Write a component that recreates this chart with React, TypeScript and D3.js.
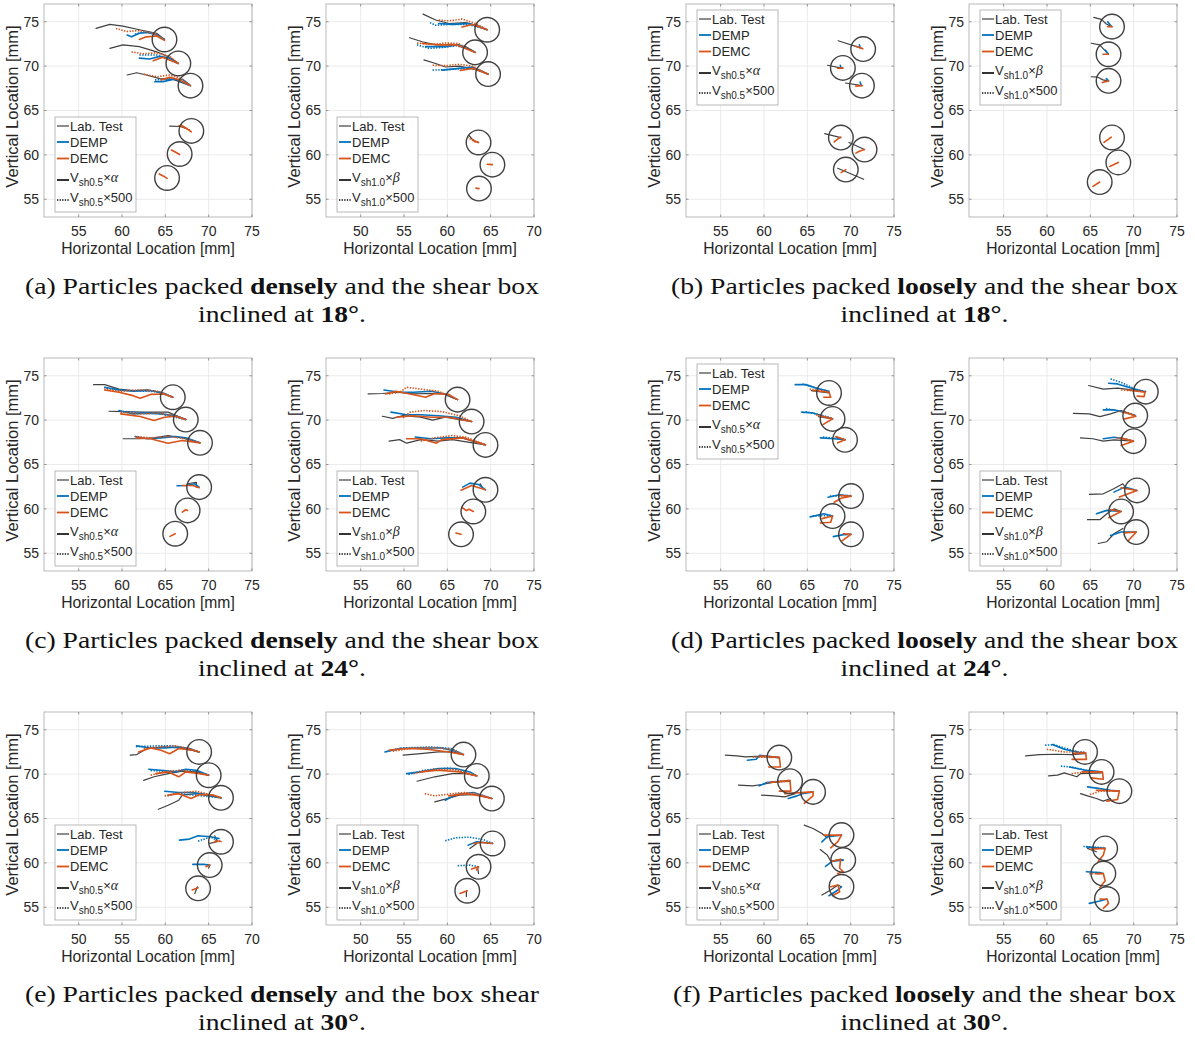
import React from "react";
import * as d3 from "d3";

// Particle trajectories in the inclined shear box (mm).
// Centres are the final particle positions; each trajectory is a flat list x0,y0,x1,y1,...

// ---- (a) dense, 18 deg ----
const a1Centers = [[64.9, 73.0], [66.5, 70.3], [67.9, 67.8], [68.0, 62.7], [66.65, 60.1], [65.2, 57.4]];
const a1Lab = [
  [57.0, 74.25, 58.6, 74.7, 60.1, 74.5, 62.0, 74.1, 64.0, 73.7, 64.9, 73.0],
  [58.6, 72.0, 60.1, 72.4, 62.0, 72.2, 64.0, 71.6, 65.5, 71.0, 66.5, 70.3],
  [60.6, 69.0, 61.7, 69.25, 62.8, 69.0, 64.35, 68.6, 65.9, 68.5, 67.9, 67.8],
  [65.5, 63.25, 66.8, 63.2, 67.3, 63.0],
];
const a1DempSolid = [
  [60.6, 73.5, 61.1, 73.3, 62.0, 73.7, 63.0, 73.8, 64.0, 73.5, 64.9, 73.0],
  [62.0, 70.9, 63.2, 70.8, 64.35, 71.1, 65.5, 70.9, 66.5, 70.3],
  [63.8, 68.25, 64.7, 68.25, 65.9, 68.5, 67.0, 68.5, 67.9, 67.8],
];
const a1DempDot = [
  [61.5, 73.6, 62.5, 73.85, 63.5, 73.7, 64.9, 73.0],
  [62.0, 71.25, 64.0, 71.25, 66.5, 70.3],
  [63.8, 68.45, 65.9, 68.6, 67.9, 67.8],
];
const a1DemcSolid = [
  [62.0, 73.0, 62.8, 73.3, 64.0, 73.4, 64.9, 72.9],
  [63.6, 70.6, 64.7, 71.0, 66.5, 70.3],
  [64.5, 68.45, 65.5, 68.75, 66.65, 68.45, 67.9, 67.8],
  [66.85, 63.35, 67.4, 63.0, 68.0, 62.6],
  [65.7, 60.55, 66.2, 60.3, 66.65, 60.05],
  [64.3, 57.85, 64.8, 57.6, 65.2, 57.35],
];
const a1DemcDot = [
  [59.3, 74.25, 60.5, 73.9, 62.0, 74.0, 63.6, 73.7, 64.9, 73.0],
  [61.1, 71.6, 62.4, 71.4, 64.0, 71.5, 65.5, 71.1, 66.5, 70.3],
  [62.5, 69.1, 64.0, 68.8, 65.5, 69.0, 66.85, 68.6, 67.9, 67.8],
  [66.5, 63.3, 67.4, 63.0, 68.0, 62.7],
];

const a2Centers = [[64.6, 74.1], [63.2, 71.55], [64.7, 69.1], [63.6, 61.4], [65.2, 58.9], [63.65, 56.2]];
const a2Lab = [
  [57.2, 75.86, 58.65, 75.2, 60.2, 74.8, 62.1, 74.9, 63.65, 74.5, 64.6, 74.1],
  [55.65, 73.2, 57.1, 72.75, 58.65, 72.4, 60.6, 72.45, 62.1, 72.2, 63.2, 71.6],
  [57.3, 70.7, 58.65, 70.3, 59.8, 69.9, 61.35, 70.0, 63.3, 69.6, 64.7, 69.1],
  [62.5, 62.2, 63.0, 61.6, 63.6, 61.4],
];
const a2DempSolid = [
  [59.0, 74.8, 60.6, 74.7, 62.5, 74.8, 64.6, 74.1],
  [57.5, 72.2, 59.8, 72.2, 61.3, 72.4, 63.2, 71.55],
  [59.4, 69.55, 61.35, 69.75, 62.9, 69.9, 64.7, 69.1],
];
const a2DempDot = [
  [58.0, 74.9, 58.65, 74.6, 60.2, 74.7, 62.1, 74.7, 63.65, 74.4, 64.6, 74.1],
  [56.5, 72.4, 57.9, 72.0, 59.4, 72.1, 61.0, 72.3, 62.1, 72.0, 63.2, 71.55],
  [58.3, 69.55, 59.8, 69.6, 61.35, 69.7, 62.9, 69.75, 64.7, 69.1],
];
const a2DemcSolid = [
  [61.7, 74.4, 62.9, 74.7, 64.6, 74.1],
  [57.1, 72.55, 59.0, 72.4, 61.0, 72.4, 63.2, 71.55],
  [61.5, 69.5, 62.9, 69.75, 64.7, 69.1],
  [62.9, 61.75, 63.3, 61.5, 63.6, 61.4],
  [64.6, 58.95, 65.2, 58.9],
  [63.3, 56.25, 63.65, 56.2],
];
const a2DemcDot = [
  [59.0, 75.2, 60.2, 75.1, 61.7, 75.3, 63.3, 74.8, 64.6, 74.1],
  [56.5, 72.6, 58.3, 72.45, 59.8, 72.6, 61.3, 72.55, 63.2, 71.55],
  [58.3, 70.1, 59.8, 70.05, 61.35, 70.2, 62.9, 70.0, 64.7, 69.1],
  [62.3, 62.0, 63.1, 61.5, 63.6, 61.4],
];

// ---- (b) loose, 18 deg ----
const b1Centers = [[71.44, 71.92], [69.1, 69.8], [71.3, 67.8], [68.87, 61.95], [71.6, 60.6], [69.44, 58.34]];
const b1Lab = [
  [68.56, 72.86, 71.3, 72.0],
  [67.33, 70.1, 69.1, 69.74],
  [69.4, 68.1, 71.3, 67.8],
  [67.0, 62.4, 68.87, 61.95],
  [69.8, 61.4, 71.6, 60.6],
  [68.5, 58.5, 71.5, 57.25],
];
const b1DempSolid = [
  [71.0, 72.4, 71.1, 72.1],
  [68.8, 70.1, 68.9, 69.75],
  [71.1, 68.2, 71.2, 67.85],
];
const b1DemcSolid = [
  [70.6, 72.25, 71.0, 72.1, 71.4, 71.95],
  [68.5, 69.74, 69.1, 69.8],
  [70.6, 67.75, 71.35, 67.8],
  [68.1, 61.46, 68.6, 61.85, 68.87, 62.0],
  [70.6, 60.2, 71.0, 60.4, 71.6, 60.6],
  [68.9, 58.0, 69.44, 58.34],
];

const b2Centers = [[67.5, 74.45], [67.1, 71.34], [67.1, 68.34], [67.5, 61.96], [68.23, 59.15], [66.08, 56.94]];
const b2Lab = [
  [65.4, 75.5, 66.27, 75.27, 66.85, 74.75, 67.5, 74.45],
  [65.1, 72.58, 66.07, 72.4, 66.65, 71.8, 67.1, 71.34],
  [65.1, 68.8, 65.88, 68.75, 66.46, 68.45, 67.1, 68.34],
];
const b2DempSolid = [
  [67.0, 75.0, 67.4, 74.5],
  [66.73, 71.8, 67.05, 71.4],
  [66.85, 68.6, 67.1, 68.34],
];
const b2DemcSolid = [
  [67.0, 74.45, 67.5, 74.45],
  [66.46, 71.34, 67.1, 71.34],
  [66.38, 68.15, 67.1, 68.34],
  [66.58, 61.4, 67.42, 62.0],
  [67.23, 58.7, 68.23, 59.15],
  [65.3, 56.45, 66.08, 56.94],
];

// ---- (c) dense, 24 deg ----
const c1Centers = [[65.86, 72.58], [67.36, 70.06], [69.0, 67.44], [68.9, 62.45], [67.57, 59.83], [66.14, 57.2]];
const c1Lab = [
  [56.72, 74.0, 58.0, 74.0, 59.65, 73.5, 61.27, 73.33, 62.9, 73.4, 64.5, 73.14, 65.86, 72.58],
  [58.5, 71.0, 60.05, 70.96, 62.1, 70.9, 63.7, 70.9, 65.3, 70.9, 67.36, 70.06],
  [60.14, 67.9, 62.1, 67.9, 63.7, 68.0, 65.3, 68.26, 66.96, 68.0, 69.0, 67.44],
  [67.56, 62.83, 68.58, 63.0, 68.58, 62.45],
];
const c1DempSolid = [
  [58.0, 73.7, 59.65, 73.4, 61.27, 73.25, 63.3, 73.33, 64.9, 73.0, 65.86, 72.58],
  [59.65, 71.08, 61.27, 70.7, 62.9, 70.78, 64.5, 70.7, 66.14, 70.5, 67.36, 70.06],
  [61.5, 68.15, 62.9, 67.9, 64.5, 68.0, 66.14, 68.15, 67.36, 68.0, 69.0, 67.44],
  [66.35, 62.6, 67.36, 62.64, 68.38, 62.83, 68.9, 62.45],
];
const c1DempDot = [
  [58.2, 73.6, 60.0, 73.35, 62.0, 73.3, 64.0, 73.2, 65.86, 72.58],
  [59.8, 71.0, 62.0, 70.85, 64.0, 70.8, 67.36, 70.06],
];
const c1DemcSolid = [
  [58.0, 73.4, 59.65, 73.14, 61.27, 72.76, 62.1, 72.46, 63.3, 72.9, 64.9, 72.95, 65.86, 72.58],
  [59.85, 70.7, 62.1, 70.4, 63.7, 69.95, 64.9, 70.33, 66.14, 70.44, 67.36, 70.06],
  [61.7, 68.0, 63.3, 67.9, 65.3, 67.4, 66.96, 67.7, 69.0, 67.44],
  [66.96, 62.64, 68.17, 62.64, 68.9, 62.38],
  [66.96, 59.64, 67.36, 59.9, 67.57, 59.83],
  [65.54, 56.9, 66.14, 57.2],
];
const c1DemcDot = [
  [57.94, 73.5, 59.65, 73.25, 62.1, 73.4, 64.1, 73.25, 65.86, 72.58],
  [59.85, 70.9, 62.1, 70.7, 64.1, 70.78, 66.14, 70.5, 67.36, 70.06],
  [61.5, 68.15, 63.3, 68.0, 65.3, 68.15, 67.36, 67.9, 69.0, 67.44],
];

const c2Centers = [[66.18, 72.31], [67.8, 69.84], [69.4, 67.21], [69.4, 62.15], [68.0, 59.71], [66.58, 57.13]];
const c2Lab = [
  [55.86, 72.95, 57.5, 73.0, 59.1, 73.14, 61.1, 72.95, 62.7, 73.0, 64.56, 72.95, 66.18, 72.31],
  [57.5, 70.44, 58.7, 70.2, 59.9, 70.5, 61.93, 70.33, 63.3, 70.0, 64.76, 70.33, 67.8, 69.84],
  [58.28, 67.63, 59.5, 67.8, 60.3, 67.4, 61.93, 67.8, 63.95, 67.63, 65.57, 67.8, 69.4, 67.21],
  [68.8, 62.83, 69.0, 62.45],
];
const c2DempSolid = [
  [57.68, 73.4, 59.5, 73.14, 61.1, 73.14, 63.14, 73.25, 64.76, 72.95, 66.18, 72.31],
  [58.5, 70.9, 60.3, 70.6, 61.93, 70.6, 63.95, 70.5, 66.0, 70.33, 67.8, 69.84],
  [61.3, 68.1, 63.14, 67.9, 64.76, 68.0, 66.78, 68.0, 69.4, 67.21],
  [66.78, 62.45, 67.6, 62.9, 68.6, 62.75, 69.4, 62.15],
];
const c2DemcSolid = [
  [57.88, 72.95, 59.1, 73.25, 60.7, 72.95, 62.5, 72.58, 63.55, 73.0, 65.16, 72.9, 66.18, 72.31],
  [59.1, 70.33, 61.1, 70.5, 63.14, 70.33, 65.16, 70.33, 67.8, 69.84],
  [60.3, 67.9, 61.93, 67.9, 63.75, 67.4, 64.36, 67.8, 66.78, 68.0, 69.4, 67.21],
  [66.58, 62.1, 67.8, 62.64, 69.4, 62.15],
  [66.78, 60.1, 67.2, 59.8, 67.5, 59.95, 68.0, 59.71],
  [66.0, 57.28, 66.58, 57.13],
];
const c2DemcDot = [
  [58.28, 72.95, 59.5, 73.14, 60.3, 73.7, 61.93, 73.5, 63.95, 73.25, 66.18, 72.31],
  [59.9, 70.25, 60.7, 70.9, 62.33, 71.08, 64.36, 70.96, 66.38, 70.5, 67.8, 69.84],
  [61.93, 67.63, 63.55, 68.0, 65.57, 68.26, 67.19, 68.07, 69.4, 67.21],
];

// ---- (d) loose, 24 deg ----
const d1Centers = [[67.5, 73.06], [67.91, 70.14], [69.35, 67.78], [70.04, 61.44], [67.91, 59.19], [70.04, 57.13]];
const d1Lab = [
  [65.46, 73.33, 67.5, 73.06],
  [66.27, 70.4, 67.91, 70.14],
  [68.3, 68.1, 69.35, 67.78],
];
const d1DempSolid = [
  [63.6, 74.0, 64.84, 74.0, 66.07, 73.6, 67.5, 73.25],
  [64.35, 70.9, 65.66, 70.8, 66.9, 70.4, 67.91, 70.14],
  [66.5, 68.0, 68.1, 67.9, 69.35, 67.78],
  [67.4, 61.3, 68.7, 61.6, 70.04, 61.44],
  [65.33, 59.1, 66.9, 59.45, 67.91, 59.19],
  [68.0, 56.87, 69.15, 57.1, 70.04, 57.13],
];
const d1DempDot = [
  [64.43, 74.08, 66.07, 73.6, 67.5, 73.25],
  [64.8, 70.95, 66.5, 70.6, 67.91, 70.2],
  [66.8, 68.1, 69.35, 67.8],
  [67.6, 61.45, 70.04, 61.5],
  [65.6, 59.2, 67.91, 59.25],
];
const d1DemcSolid = [
  [65.66, 73.33, 67.5, 73.14, 67.7, 72.58, 66.9, 72.58],
  [66.3, 70.5, 67.9, 70.15, 66.8, 69.5],
  [68.5, 67.44, 69.35, 67.78, 68.3, 68.15],
  [68.1, 60.74, 68.9, 61.2, 70.04, 61.44, 68.6, 61.5],
  [66.5, 58.4, 67.7, 58.5, 67.91, 59.19, 66.7, 58.9],
  [69.0, 56.4, 70.04, 57.13, 69.15, 57.2],
];
const d1DemcDot = [
  [65.25, 73.5, 67.5, 73.2],
  [66.0, 70.6, 67.91, 70.2],
];

const d2Centers = [[71.4, 73.21], [70.18, 70.51], [69.98, 67.63], [70.39, 62.08], [68.55, 59.71], [70.3, 57.39]];
const d2Lab = [
  [64.8, 73.9, 66.5, 73.5, 68.14, 73.6, 69.77, 73.4, 71.4, 73.21],
  [63.04, 70.77, 64.88, 70.7, 66.1, 70.4, 67.33, 70.7, 68.55, 71.08, 70.18, 70.51],
  [63.86, 68.0, 65.29, 67.9, 66.5, 67.63, 67.73, 67.78, 69.98, 67.63],
  [64.9, 61.63, 66.5, 61.7, 67.7, 62.26, 68.75, 62.83, 69.16, 62.26],
  [64.67, 58.78, 66.1, 58.78, 66.9, 59.45, 67.73, 60.0, 68.55, 59.71],
  [65.9, 56.1, 66.9, 56.3, 67.73, 57.2, 68.75, 57.8],
];
const d2DempSolid = [
  [67.12, 74.15, 68.14, 74.08, 69.37, 73.7, 71.0, 73.25],
  [66.5, 71.15, 67.73, 71.15, 68.96, 70.9, 70.18, 70.51],
  [66.5, 67.9, 67.73, 68.07, 68.96, 67.9, 69.98, 67.63],
  [67.73, 61.89, 68.96, 62.45, 70.39, 62.08],
  [65.7, 59.45, 66.9, 59.83, 68.55, 59.71],
  [67.33, 57.0, 68.55, 57.39, 70.3, 57.39],
];
const d2DempDot = [
  [67.33, 74.64, 68.55, 74.26, 70.18, 73.5, 71.4, 73.21],
  [66.8, 71.3, 68.5, 71.0, 70.18, 70.55],
];
const d2DemcSolid = [
  [69.37, 73.4, 71.3, 73.14, 71.2, 72.65, 70.4, 72.7],
  [68.96, 70.14, 70.26, 70.44, 69.04, 70.9],
  [68.55, 67.14, 69.98, 67.63, 68.46, 68.0],
  [68.35, 61.33, 69.37, 61.7, 70.39, 62.08, 68.55, 62.38],
  [67.12, 59.0, 68.55, 59.71, 67.3, 59.9],
  [69.37, 56.4, 70.3, 57.39, 68.96, 57.3],
];
const d2DemcDot = [
  [68.55, 73.4, 71.4, 73.21],
  [68.3, 71.0, 70.18, 70.55],
  [68.0, 68.0, 69.98, 67.7],
];

// ---- (e) dense, 30 deg ----
const e1Centers = [[63.9, 72.5], [65.0, 69.88], [66.42, 67.33], [66.42, 62.38], [65.12, 59.75], [63.78, 57.13]];
const e1Lab = [
  [55.95, 72.13, 56.7, 72.2, 57.9, 72.88, 59.9, 73.06, 61.55, 72.95, 63.0, 72.7, 63.9, 72.5],
  [57.5, 69.3, 58.7, 69.7, 60.33, 70.06, 61.96, 70.33, 63.6, 70.25, 65.0, 69.88],
  [59.2, 66.05, 60.33, 66.5, 61.55, 67.06, 61.96, 67.63, 63.58, 67.8, 66.42, 67.33],
  [65.7, 63.05, 66.0, 62.38, 65.12, 62.2],
  [65.0, 59.4, 65.12, 59.75],
  [63.4, 56.56, 63.7, 57.3],
];
const e1DempSolid = [
  [56.68, 73.18, 58.3, 72.95, 59.93, 72.95, 61.55, 73.06, 62.77, 72.88, 63.9, 72.5],
  [58.1, 70.55, 59.5, 70.44, 61.14, 70.25, 62.36, 70.55, 63.58, 70.44, 65.0, 69.88],
  [59.93, 68.07, 61.55, 67.93, 63.17, 67.93, 65.2, 67.63, 66.42, 67.33],
  [61.63, 62.56, 62.77, 62.68, 63.78, 63.05, 65.2, 62.94, 66.2, 62.75],
  [63.17, 59.83, 64.4, 59.83, 65.12, 59.75],
];
const e1DempDot = [
  [56.6, 73.1, 59.1, 73.18, 61.1, 73.18, 63.9, 72.5],
  [58.3, 70.4, 60.5, 70.3, 62.5, 70.5, 65.0, 69.88],
  [60.25, 67.55, 61.2, 67.85, 66.42, 67.33],
  [63.78, 62.45, 65.2, 62.9, 66.42, 62.38],
];
const e1DemcSolid = [
  [56.9, 72.5, 58.3, 72.95, 59.5, 72.7, 60.5, 72.3, 61.55, 72.88, 63.17, 72.7, 63.9, 72.5],
  [58.9, 70.06, 60.33, 70.25, 61.55, 69.7, 62.36, 70.25, 64.0, 70.06, 65.0, 69.88],
  [60.33, 67.63, 61.55, 67.8, 62.97, 67.25, 63.98, 67.7, 65.6, 67.63, 66.42, 67.33],
  [65.6, 62.3, 65.8, 62.5, 66.42, 62.4],
  [64.7, 59.56, 65.12, 59.75],
  [63.1, 56.94, 63.78, 57.2],
];
const e1DemcDot = [
  [57.5, 72.88, 59.5, 73.06, 61.1, 73.18, 62.77, 72.88, 63.9, 72.5],
  [58.3, 69.88, 59.93, 70.25, 61.96, 70.44, 65.0, 69.88],
  [59.93, 67.55, 61.96, 67.93, 63.58, 68.07, 65.2, 67.7, 66.42, 67.33],
];

const e2Centers = [[61.86, 72.2], [63.4, 69.8], [65.14, 67.25], [65.22, 62.19], [63.6, 59.56], [62.3, 56.86]];
const e2Lab = [
  [54.9, 72.13, 56.93, 72.3, 58.95, 72.5, 60.57, 72.5, 61.86, 72.2],
  [56.5, 69.2, 58.55, 69.7, 60.57, 70.06, 62.2, 70.06, 63.4, 69.8],
  [58.55, 66.88, 59.76, 67.18, 61.38, 67.63, 63.0, 67.7, 65.14, 67.25],
  [62.6, 61.63, 63.4, 62.19],
  [63.5, 59.4, 63.6, 58.8],
  [62.2, 56.2, 62.2, 56.86],
];
const e2DempSolid = [
  [52.8, 72.5, 54.5, 72.88, 56.93, 72.95, 59.35, 72.95, 60.97, 72.58, 61.86, 72.2],
  [55.3, 70.06, 56.93, 70.25, 58.95, 70.63, 60.97, 70.63, 62.6, 70.25, 63.4, 69.8],
  [59.76, 67.06, 60.97, 67.7, 63.0, 67.93, 65.14, 67.25],
  [62.4, 62.0, 63.4, 62.38, 65.22, 62.19],
];
const e2DempDot = [
  [53.0, 72.55, 54.8, 72.95, 58.1, 73.06, 60.4, 72.9, 61.86, 72.2],
  [55.5, 69.95, 57.33, 70.44, 60.2, 70.7, 63.4, 69.8],
  [59.76, 62.49, 60.97, 62.83, 62.6, 62.9, 64.2, 62.6, 65.22, 62.19],
  [61.2, 59.68, 62.6, 59.75, 63.6, 59.56],
];
const e2DemcSolid = [
  [53.3, 72.7, 55.3, 72.88, 57.7, 72.8, 60.2, 72.5, 61.86, 72.2],
  [56.93, 70.25, 58.95, 70.44, 61.38, 70.25, 63.4, 69.8],
  [60.16, 67.55, 62.19, 67.8, 63.8, 67.55, 65.14, 67.25],
  [63.0, 62.19, 64.0, 62.3, 65.22, 62.19],
  [62.8, 59.3, 63.6, 59.56, 63.37, 59.2],
  [61.46, 56.56, 62.3, 56.86],
];
const e2DemcDot = [
  [53.7, 72.58, 56.1, 72.95, 58.1, 73.0, 60.5, 72.8, 61.86, 72.2],
  [56.1, 70.06, 58.55, 70.55, 61.0, 70.5, 63.4, 69.8],
  [57.4, 67.8, 58.55, 67.55, 59.76, 67.7, 61.8, 67.93, 63.4, 67.8, 65.14, 67.25],
];

// ---- (f) loose, 30 deg ----
const f1Centers = [[61.77, 71.86], [63.0, 69.2], [65.66, 68.0], [68.94, 63.13], [69.14, 60.31], [68.94, 57.31]];
const f1Lab = [
  [55.55, 72.13, 56.86, 72.05, 57.88, 71.94, 59.1, 72.0, 60.3, 71.94, 61.77, 71.86],
  [57.06, 68.75, 58.7, 68.68, 59.72, 68.83, 61.16, 69.1, 63.0, 69.2],
  [59.72, 67.63, 61.16, 67.55, 62.4, 67.44, 63.6, 67.8],
  [64.64, 64.25, 65.66, 63.87, 66.68, 63.3, 67.3, 62.82],
  [66.48, 61.5, 67.3, 60.88, 67.7, 60.2, 68.84, 60.4, 69.14, 60.31],
  [66.68, 56.38, 67.7, 56.94, 68.53, 57.5, 68.94, 57.31],
];
const f1DempSolid = [
  [58.08, 71.56, 59.1, 71.67, 59.5, 72.13, 61.77, 71.86],
  [59.44, 68.68, 60.34, 69.05, 61.77, 69.2, 63.0, 69.2],
  [62.8, 67.25, 63.8, 67.55, 64.43, 67.8, 65.66, 68.0],
  [66.68, 62.37, 67.3, 62.94, 68.94, 63.13],
  [67.1, 59.6, 67.9, 60.2, 69.14, 60.31],
  [67.5, 56.3, 68.53, 56.94, 68.94, 57.31],
];
const f1DemcSolid = [
  [59.5, 72.05, 61.77, 71.9, 61.9, 70.8, 60.54, 70.8],
  [60.75, 69.05, 63.0, 69.3, 63.1, 68.08, 61.77, 68.08],
  [62.4, 67.8, 65.66, 68.0, 65.66, 67.55, 64.64, 66.7],
  [66.9, 63.13, 68.94, 63.13, 68.5, 62.37, 67.7, 61.7],
  [67.7, 60.13, 68.84, 60.4, 68.73, 59.4, 69.14, 59.0, 68.5, 58.8],
  [67.7, 57.31, 68.53, 57.5, 68.73, 56.75, 67.9, 56.3],
];
const f1DemcDot = [
  [58.7, 71.94, 61.77, 71.86],
  [60.34, 69.05, 63.0, 69.2],
];

const f2Centers = [[64.39, 72.5], [66.3, 70.25], [68.35, 68.08], [66.71, 61.63], [66.5, 58.8], [66.92, 55.93]];
const f2Lab = [
  [57.53, 72.05, 59.16, 72.2, 61.2, 72.24, 62.84, 72.2, 64.39, 72.3],
  [60.18, 69.8, 61.2, 69.88, 62.0, 70.14, 63.45, 69.7, 63.86, 70.06, 66.3, 70.14],
  [63.86, 67.8, 64.67, 67.55, 65.7, 67.25, 66.5, 66.96, 67.33, 67.25],
  [64.67, 61.63, 65.7, 61.25],
];
const f2DempSolid = [
  [60.6, 73.33, 62.0, 72.8, 63.65, 72.45, 64.39, 72.4],
  [62.6, 70.8, 64.47, 70.44, 66.3, 70.25],
  [64.67, 68.56, 66.1, 68.37, 67.33, 68.18, 68.35, 68.08],
  [64.55, 61.8, 65.7, 61.7, 66.71, 61.63],
  [64.55, 59.0, 66.1, 58.9, 66.5, 58.8],
  [64.88, 55.44, 66.1, 55.7, 66.92, 55.93],
];
const f2DempDot = [
  [59.78, 73.25, 60.8, 73.33, 62.0, 72.95, 63.65, 72.5, 64.39, 72.45],
  [61.6, 70.9, 62.84, 70.8, 64.47, 70.44, 66.3, 70.25],
  [64.2, 61.85, 66.71, 61.7],
];
const f2DemcSolid = [
  [63.0, 72.3, 64.47, 72.4, 64.55, 71.66, 62.9, 71.66],
  [64.06, 70.25, 66.4, 70.25, 66.5, 69.43, 65.08, 69.58],
  [65.7, 68.18, 68.35, 68.08, 68.14, 67.14, 66.9, 66.96],
  [65.08, 61.55, 66.71, 61.63, 66.5, 60.88, 65.9, 60.13],
  [65.7, 58.78, 66.5, 58.8, 66.71, 57.98, 66.1, 57.23],
  [66.1, 55.93, 66.92, 55.9, 67.1, 55.44, 66.5, 54.88],
];
const f2DemcDot = [
  [59.98, 72.8, 62.0, 72.5, 64.39, 72.45],
  [62.84, 70.06, 64.47, 70.25, 66.3, 70.25],
  [64.96, 67.7, 66.1, 68.08, 68.35, 68.08],
  [64.88, 58.78, 66.5, 58.8],
];

// ---- captions ----
const captionIds = ["(a)", "(b)", "(c)", "(d)", "(e)", "(f)"];
const captionPacking = ["densely", "loosely", "densely", "loosely", "densely", "loosely"];
const captionTail = ["and the shear box", "and the shear box", "and the shear box", "and the shear box", "and the box shear", "and the shear box"];
const captionAngles = ["18", "18", "24", "24", "30", "30"];

const legendLabels = ["Lab. Test", "DEMP", "DEMC"];

// ---- layout ----
const W = 1195;
const H = 1038;
const colLeft = [44, 326, 686, 969];
const rowTop = [4, 358, 712];
const boxW = 208;
const boxH = 213;
const SPAN = 24; // mm shown on each axis
const Y_MIN = 53;
const RADIUS = 1.42; // particle radius in mm

const COL_LAB = "#404040";
const COL_DEMP = "#0072BD";
const COL_DEMC = "#D95319";
const SANS = "'Liberation Sans', Arial, sans-serif";

const panels = [
  { row: 0, col: 0, xMin: 51, legend: "sw", sub: "sh0.5", factor: "α", centers: a1Centers, lab: a1Lab, dempS: a1DempSolid, dempD: a1DempDot, demcS: a1DemcSolid, demcD: a1DemcDot },
  { row: 0, col: 1, xMin: 46, legend: "sw", sub: "sh1.0", factor: "β", centers: a2Centers, lab: a2Lab, dempS: a2DempSolid, dempD: a2DempDot, demcS: a2DemcSolid, demcD: a2DemcDot },
  { row: 0, col: 2, xMin: 51, legend: "nw", sub: "sh0.5", factor: "α", centers: b1Centers, lab: b1Lab, dempS: b1DempSolid, dempD: [], demcS: b1DemcSolid, demcD: [] },
  { row: 0, col: 3, xMin: 51, legend: "nw", sub: "sh1.0", factor: "β", centers: b2Centers, lab: b2Lab, dempS: b2DempSolid, dempD: [], demcS: b2DemcSolid, demcD: [] },
  { row: 1, col: 0, xMin: 51, legend: "sw", sub: "sh0.5", factor: "α", centers: c1Centers, lab: c1Lab, dempS: c1DempSolid, dempD: c1DempDot, demcS: c1DemcSolid, demcD: c1DemcDot },
  { row: 1, col: 1, xMin: 51, legend: "sw", sub: "sh1.0", factor: "β", centers: c2Centers, lab: c2Lab, dempS: c2DempSolid, dempD: [], demcS: c2DemcSolid, demcD: c2DemcDot },
  { row: 1, col: 2, xMin: 51, legend: "nw", sub: "sh0.5", factor: "α", centers: d1Centers, lab: d1Lab, dempS: d1DempSolid, dempD: d1DempDot, demcS: d1DemcSolid, demcD: d1DemcDot },
  { row: 1, col: 3, xMin: 51, legend: "sw", sub: "sh1.0", factor: "β", centers: d2Centers, lab: d2Lab, dempS: d2DempSolid, dempD: d2DempDot, demcS: d2DemcSolid, demcD: d2DemcDot },
  { row: 2, col: 0, xMin: 46, legend: "sw", sub: "sh0.5", factor: "α", centers: e1Centers, lab: e1Lab, dempS: e1DempSolid, dempD: e1DempDot, demcS: e1DemcSolid, demcD: e1DemcDot },
  { row: 2, col: 1, xMin: 46, legend: "sw", sub: "sh1.0", factor: "β", centers: e2Centers, lab: e2Lab, dempS: e2DempSolid, dempD: e2DempDot, demcS: e2DemcSolid, demcD: e2DemcDot },
  { row: 2, col: 2, xMin: 51, legend: "sw", sub: "sh0.5", factor: "α", centers: f1Centers, lab: f1Lab, dempS: f1DempSolid, dempD: [], demcS: f1DemcSolid, demcD: f1DemcDot },
  { row: 2, col: 3, xMin: 51, legend: "sw", sub: "sh1.0", factor: "β", centers: f2Centers, lab: f2Lab, dempS: f2DempSolid, dempD: f2DempDot, demcS: f2DemcSolid, demcD: f2DemcDot },
];

const pairs = (flat: number[]): [number, number][] =>
  d3.range(0, flat.length, 2).map((i) => [flat[i], flat[i + 1]] as [number, number]);

function Legend({ x0, y0, sub, factor }: { x0: number; y0: number; sub: string; factor: string }) {
  const rows = [9, 25, 41.5];
  const colors = [COL_LAB, COL_DEMP, COL_DEMC];
  return (
    <g transform={`translate(${x0},${y0})`} fontFamily={SANS} fontSize={13} fill="#262626">
      <rect width={81} height={95} fill="#fff" stroke="#a8a8a8" strokeWidth={0.8} />
      {legendLabels.map((t, i) => (
        <g key={t}>
          <line x1={2} x2={14} y1={rows[i]} y2={rows[i]} stroke={colors[i]} strokeWidth={i === 0 ? 1.2 : 1.8} />
          <text x={15} y={rows[i] + 4.6}>{t}</text>
        </g>
      ))}
      {[0, 1].map((k) => {
        const cy = 60 + k * 20;
        return (
          <g key={k}>
            <line x1={2} x2={14} y1={cy + 3} y2={cy + 3} stroke="#000" strokeWidth={1.6} strokeDasharray={k ? "1.3,1.3" : undefined} />
            <text x={15} y={cy + 4.6}>
              <tspan>V</tspan>
              <tspan fontSize={10} dy={4}>{sub}</tspan>
              <tspan dy={-4}>×</tspan>
              {k === 0 ? (
                <tspan fontFamily="'Liberation Serif', serif" fontStyle="italic" fontSize={14}>{factor}</tspan>
              ) : (
                <tspan>500</tspan>
              )}
            </text>
          </g>
        );
      })}
    </g>
  );
}

function Panel({ p }: { p: (typeof panels)[number] }) {
  const left = colLeft[p.col];
  const top = rowTop[p.row];
  const x = d3.scaleLinear().domain([p.xMin, p.xMin + SPAN]).range([0, boxW]);
  const y = d3.scaleLinear().domain([Y_MIN, Y_MIN + SPAN]).range([boxH, 0]);
  const line = d3.line<[number, number]>().x((d) => x(d[0])).y((d) => y(d[1]));
  const xTicks = x.ticks(5);
  const yTicks = y.ticks(5);
  const r = x(p.xMin + RADIUS) - x(p.xMin);

  const series = [
    { data: p.lab, color: COL_LAB, width: 1.2, dash: undefined },
    { data: p.dempD, color: COL_DEMP, width: 1.6, dash: "1.4,1.4" },
    { data: p.dempS, color: COL_DEMP, width: 1.6, dash: undefined },
    { data: p.demcD, color: COL_DEMC, width: 1.6, dash: "1.4,1.4" },
    { data: p.demcS, color: COL_DEMC, width: 1.6, dash: undefined },
  ];

  const legendY = p.legend === "nw" ? 6 : boxH - 5 - 95;

  return (
    <g transform={`translate(${left},${top})`}>
      <rect width={boxW} height={boxH} fill="#fff" />
      {xTicks.map((t) => (
        <line key={"gx" + t} x1={x(t)} x2={x(t)} y1={0} y2={boxH} stroke="#e6e6e6" strokeWidth={0.8} />
      ))}
      {yTicks.map((t) => (
        <line key={"gy" + t} x1={0} x2={boxW} y1={y(t)} y2={y(t)} stroke="#e6e6e6" strokeWidth={0.8} />
      ))}
      {series.map((s, si) =>
        s.data.map((f, i) => (
          <path
            key={si + "-" + i}
            d={line(pairs(f)) || ""}
            fill="none"
            stroke={s.color}
            strokeWidth={s.width}
            strokeDasharray={s.dash}
            strokeLinejoin="round"
            strokeLinecap={s.dash ? "butt" : "round"}
          />
        ))
      )}
      {p.centers.map((c, i) => (
        <circle key={"c" + i} cx={x(c[0])} cy={y(c[1])} r={r} fill="none" stroke={COL_LAB} strokeWidth={1.4} />
      ))}
      <Legend x0={11} y0={legendY} sub={p.sub} factor={p.factor} />
      <rect width={boxW} height={boxH} fill="none" stroke="#a8a8a8" strokeWidth={0.8} />
      {xTicks.map((t) => (
        <g key={"tx" + t}>
          <line x1={x(t)} x2={x(t)} y1={boxH} y2={boxH - 2.5} stroke="#808080" strokeWidth={0.8} />
          <line x1={x(t)} x2={x(t)} y1={0} y2={2.5} stroke="#808080" strokeWidth={0.8} />
          <text x={x(t)} y={boxH + 19} textAnchor="middle" fontFamily={SANS} fontSize={14} fill="#262626">
            {t}
          </text>
        </g>
      ))}
      {yTicks.map((t) => (
        <g key={"ty" + t}>
          <line x1={0} x2={2.5} y1={y(t)} y2={y(t)} stroke="#808080" strokeWidth={0.8} />
          <line x1={boxW} x2={boxW - 2.5} y1={y(t)} y2={y(t)} stroke="#808080" strokeWidth={0.8} />
          <text x={-5} y={y(t)} dy="0.35em" textAnchor="end" fontFamily={SANS} fontSize={14} fill="#262626">
            {t}
          </text>
        </g>
      ))}
      <text x={boxW / 2} y={boxH + 37} textAnchor="middle" fontFamily={SANS} fontSize={15.7} fill="#262626">
        Horizontal Location [mm]
      </text>
      <text
        transform={`translate(${-26.5},${boxH / 2 - 4}) rotate(-90)`}
        textAnchor="middle"
        fontFamily={SANS}
        fontSize={16.5}
        fill="#262626"
      >
        Vertical Location [mm]
      </text>
    </g>
  );
}

function Caption({ i }: { i: number }) {
  const group = i % 2;
  const row = Math.floor(i / 2);
  const cx = group === 0 ? 282 : 924.5;
  const base = 294 + row * 354;
  const len1 = group === 0 ? 514 : captionIds[i] === "(f)" ? 503 : 507;
  return (
    <g fontFamily="'Liberation Serif', 'Times New Roman', serif" fontSize={23} fill="#111">
      <text x={cx} y={base} textAnchor="middle" textLength={len1} lengthAdjust="spacingAndGlyphs">
        <tspan>{captionIds[i]} Particles packed </tspan>
        <tspan fontWeight="bold">{captionPacking[i]}</tspan>
        <tspan> {captionTail[i]}</tspan>
      </text>
      <text x={cx} y={base + 28} textAnchor="middle" textLength={168} lengthAdjust="spacingAndGlyphs">
        <tspan>inclined at </tspan>
        <tspan fontWeight="bold">{captionAngles[i]}°</tspan>
        <tspan>.</tspan>
      </text>
    </g>
  );
}

export default function App() {
  return (
    <div style={{ position: "absolute", left: 0, top: 0 }}>
      <svg width={W} height={H} viewBox={`0 0 ${W} ${H}`} style={{ display: "block", background: "#fff" }}>
        <rect width={W} height={H} fill="#fff" />
        {panels.map((p, i) => (
          <Panel key={i} p={p} />
        ))}
        {captionIds.map((_, i) => (
          <Caption key={i} i={i} />
        ))}
      </svg>
    </div>
  );
}
